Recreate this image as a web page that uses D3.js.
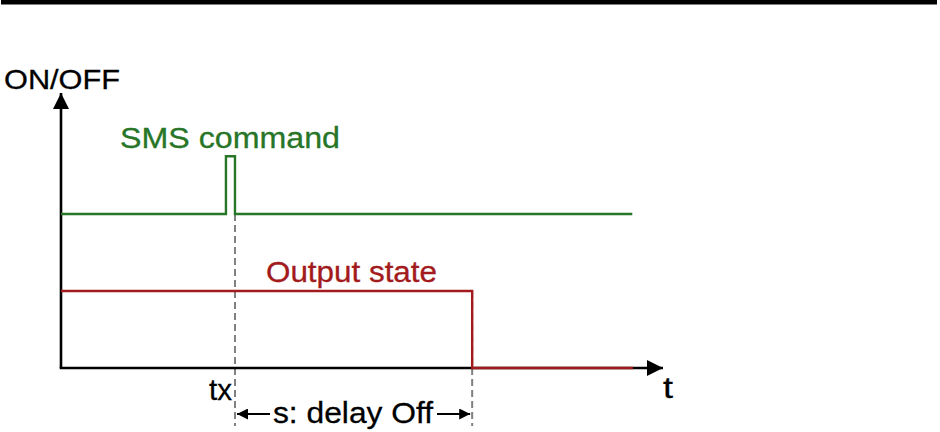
<!doctype html>
<html lang="en">
<head>
    <meta charset="UTF-8">
    <title>SMS delay off</title>
    <style>
        body { margin: 0; background: #fff; }
        svg text { font-family: "Liberation Sans", Arial, sans-serif; }
    </style>
</head>
<body>

<div class="canvas">
    <svg width="940" height="432"></svg>
</div>

<script src="https://d3js.org/d3.v7.min.js"></script>
<script>
    // time in arbitrary units, level 0..100 on the ON/OFF axis
    const smsTimes  = [0, 27.4, 27.4, 28.9, 28.9, 94.9];
    const smsLevels = [56, 56, 77, 77, 56, 56];
    const outTimes  = [0, 68.3, 68.3, 95.0];
    const outLevels = [28, 28, 0, 0];
    const markTimes = [28.9, 68.3];        // tx and end of delay
    const markTops  = [56, 28];
    const labels = {
        y: 'ON/OFF', x: 't', sms: 'SMS command', out: 'Output state',
        tx: 'tx', delay: 's: delay Off'
    };

    const svg = d3.select('.canvas svg');

    const x = d3.scaleLinear().domain([0, 100]).range([61, 663]);
    const y = d3.scaleLinear().domain([0, 100]).range([368, 93]);

    const green = '#277527';
    const red = '#a31a1c';

    // top rule
    svg.append('rect')
        .attr('x', 1).attr('y', 0)
        .attr('width', 936).attr('height', 4.5)
        .attr('fill', '#000');

    const defs = svg.append('defs');
    const marker = (id, w, h) => defs.append('marker')
        .attr('id', id)
        .attr('viewBox', '0 0 10 10')
        .attr('refX', 10).attr('refY', 5)
        .attr('markerWidth', w).attr('markerHeight', h)
        .attr('markerUnits', 'userSpaceOnUse')
        .attr('orient', 'auto')
        .append('path')
        .attr('d', 'M0,0L10,5L0,10Z')
        .attr('fill', '#000');
    marker('axisHead', 20, 16);
    marker('dimHead', 14, 11);

    // dashed markers
    svg.selectAll('line.mark')
        .data(markTimes)
        .enter()
        .append('line')
        .attr('class', 'mark')
        .attr('x1', d => x(d)).attr('x2', d => x(d))
        .attr('y1', (d, i) => y(markTops[i]))
        .attr('y2', 426)
        .attr('stroke', '#808080')
        .attr('stroke-width', 2)
        .attr('stroke-dasharray', '7,4');

    // axes
    svg.append('line')
        .attr('x1', x(0)).attr('y1', y(0))
        .attr('x2', x(0)).attr('y2', y(100))
        .attr('stroke', '#000').attr('stroke-width', 2.6)
        .attr('marker-end', 'url(#axisHead)');
    svg.append('line')
        .attr('x1', x(0) - 1.3).attr('y1', y(0))
        .attr('x2', x(100)).attr('y2', y(0))
        .attr('stroke', '#000').attr('stroke-width', 2.6)
        .attr('marker-end', 'url(#axisHead)');

    const line = d3.line()
        .x(d => x(d[0]))
        .y(d => y(d[1]));

    svg.append('path')
        .datum(d3.zip(smsTimes, smsLevels))
        .attr('d', line)
        .attr('fill', 'none')
        .attr('stroke', green)
        .attr('stroke-width', 2.4);

    svg.append('path')
        .datum(d3.zip(outTimes, outLevels))
        .attr('d', line)
        .attr('fill', 'none')
        .attr('stroke', red)
        .attr('stroke-width', 2.4);

    // dimension arrows for the delay
    const dimY = 414;
    svg.append('line')
        .attr('x1', 270).attr('y1', dimY)
        .attr('x2', x(markTimes[0]) + 2).attr('y2', dimY)
        .attr('stroke', '#000').attr('stroke-width', 2)
        .attr('marker-end', 'url(#dimHead)');
    svg.append('line')
        .attr('x1', 437).attr('y1', dimY)
        .attr('x2', x(markTimes[1]) - 2).attr('y2', dimY)
        .attr('stroke', '#000').attr('stroke-width', 2)
        .attr('marker-end', 'url(#dimHead)');

    const text = (str, tx, ty, size, len, color) => svg.append('text')
        .attr('x', tx).attr('y', ty)
        .attr('font-size', size)
        .attr('fill', color)
        .attr('stroke', color)
        .attr('stroke-width', 0.3)
        .attr('textLength', len)
        .attr('lengthAdjust', 'spacingAndGlyphs')
        .text(str);

    text(labels.y, 4, 89, 28, 116, '#000');
    text(labels.sms, 120, 148, 29, 220, green);
    text(labels.out, 266, 282, 29, 171, red);
    text(labels.tx, 209, 400, 29, 23, '#000');
    text(labels.x, 663, 398, 29, 10, '#000');
    text(labels.delay, 273, 423, 30, 160, '#000');
</script>
</body>
</html>
